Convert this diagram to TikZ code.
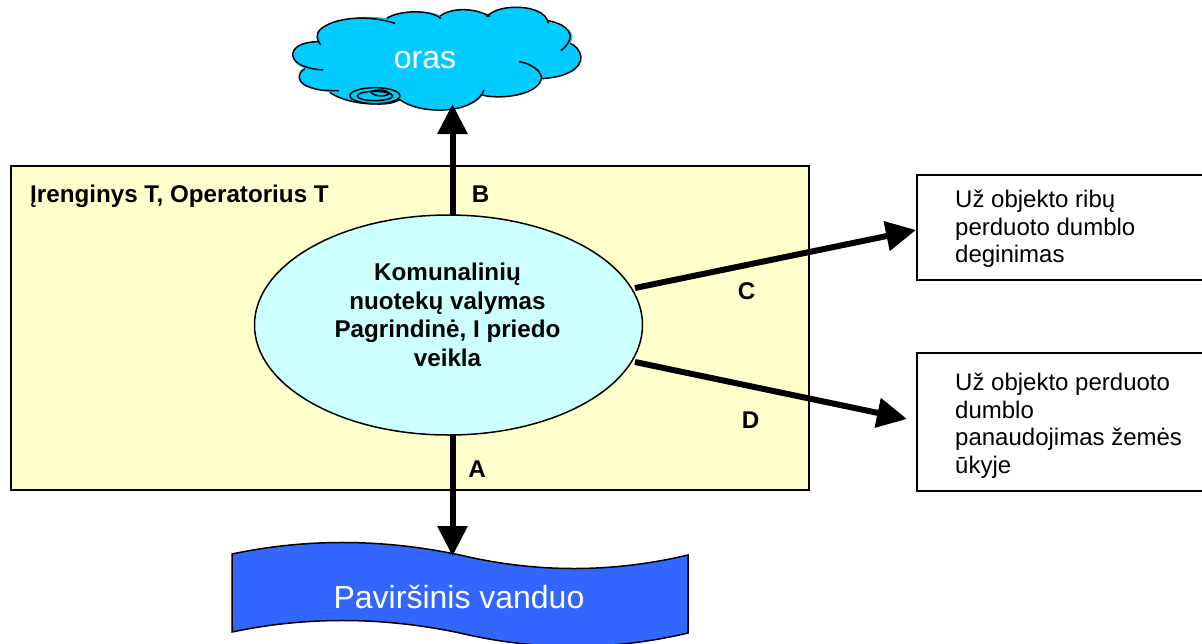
\documentclass[tikz,border=0pt]{standalone}
\usepackage{fontspec}
\setmainfont{Liberation Sans}
\usetikzlibrary{arrows.meta,shapes.geometric}
\tikzset{
  flowarrow/.style={line width=6pt,-{Triangle[length=30pt,width=29pt]},shorten >=0pt},
  sidebox/.style={draw,line width=1.5pt,fill=white},
  lbl/.style={font=\fontsize{24.2}{28}\selectfont\bfseries,inner sep=0pt},
  boxtxt/.style={font=\fontsize{24}{27.5}\selectfont,align=left,inner sep=0pt,anchor=north west},
}
\begin{document}
\begin{tikzpicture}[x=1pt,y=-1pt]
\useasboundingbox (0,0) rectangle (1202,643);
\clip (0,0) rectangle (1202,643);
% plant area
\node[draw,line width=1.5pt,fill={rgb,255:red,255;green,255;blue,204},minimum width=798pt,minimum height=324pt,inner sep=0pt] (plant) at (410,328) {};
% cloud
\begin{scope}[shift={(280pt,0pt)},x=0.3333pt,y=-0.3333pt,line width=1.5pt]
\fill[fill={rgb,255:red,0;green,204;blue,255}] (118,125) .. controls (60,125) and (38,145) .. (38,165) .. controls (40,185) and (55,200) .. (75,205) .. controls (55,220) and (50,250) .. (90,262) .. controls (110,270) and (130,272) .. (150,278) .. controls (180,298) and (230,312) .. (290,312) .. controls (320,313) and (345,308) .. (360,300) .. controls (390,322) and (440,332) .. (490,330) .. controls (550,328) and (600,305) .. (607,285) .. controls (650,298) and (750,295) .. (785,235) .. controls (860,232) and (905,205) .. (903,170) .. controls (900,150) and (885,135) .. (870,130) .. controls (885,110) and (885,85) .. (805,65) .. controls (800,35) and (740,20) .. (700,22) .. controls (670,23) and (640,30) .. (622,48) .. controls (590,25) and (520,20) .. (482,48) .. controls (450,28) and (360,30) .. (320,55) .. controls (240,40) and (110,65) .. (112,105) .. controls (112,115) and (115,120) .. (118,125) -- cycle;
\draw (122,135) .. controls (110,120) and (105,100) .. (125,85) .. controls (170,50) and (270,45) .. (345,70);
\draw (320,55) .. controls (360,30) and (450,28) .. (482,55);
\draw (480,48) .. controls (520,20) and (590,25) .. (630,50);
\draw (620,50) .. controls (640,30) and (670,23) .. (700,22) .. controls (750,20) and (800,35) .. (805,70);
\draw (803,62) .. controls (860,72) and (900,105) .. (843,152);
\draw (870,130) .. controls (885,135) and (900,150) .. (903,170) .. controls (905,205) and (860,232) .. (785,236);
\draw (718,185) .. controls (770,195) and (790,225) .. (783,240) .. controls (765,290) and (650,298) .. (607,285);
\draw (612,270) .. controls (600,305) and (550,328) .. (490,330) .. controls (440,332) and (390,322) .. (358,298);
\draw (362,298) .. controls (345,308) and (320,313) .. (290,312) .. controls (230,312) and (180,298) .. (150,278);
\draw (177,272) .. controls (130,272) and (110,270) .. (90,262) .. controls (50,250) and (50,220) .. (75,205);
\draw (130,210) .. controls (90,208) and (40,195) .. (38,165) .. controls (38,145) and (60,125) .. (118,125);
\draw (285,287) ellipse [x radius=75,y radius=24];
\draw (285,288) ellipse [x radius=53,y radius=14];
\draw (272,276) .. controls (285,292) and (320,290) .. (328,280) .. controls (320,268) and (285,268) .. (272,276);
\end{scope}
\node[inner sep=0pt,text=white,font=\fontsize{32}{36}\selectfont] (oras) at (425,60.5) {oras};
\coordinate (cloudb) at (452.5,104);
% surface water
\path[draw,line width=1.5pt,fill={rgb,255:red,51;green,102;blue,255}] (232,554) .. controls (308,538) and (384,539) .. (460,555) .. controls (536,573) and (612,573) .. (688,555) -- (688,633) .. controls (612,651) and (536,651) .. (460,633) .. controls (384,617) and (308,616) .. (232,632) -- cycle;
\node[inner sep=0pt,text=white,font=\fontsize{32}{36}\selectfont] (water) at (459,597) {Paviršinis vanduo};
\coordinate (waterb) at (452.5,556);
% side boxes
\node[sidebox,minimum width=290pt,minimum height=105pt,inner sep=0pt] (boxc) at (1062,227.5) {};
\node[sidebox,minimum width=290pt,minimum height=138pt,inner sep=0pt] (boxd) at (1062,422) {};
\coordinate (boxcin) at (916,230);
\coordinate (boxdin) at (907,419);
% connectors (under ellipse)
\coordinate (ctop) at (452.5,220);
\coordinate (cbot) at (452.5,430);
\coordinate (cc) at (635,288);
\coordinate (cd) at (635,362);
\draw[flowarrow] (ctop) -- (cloudb);
\draw[flowarrow] (cbot) -- (waterb);
\draw[flowarrow] (cc) -- (boxcin);
\draw[flowarrow] (cd) -- (boxdin);
% activity
\node[ellipse,draw,line width=1.5pt,fill={rgb,255:red,204;green,255;blue,255},minimum width=388pt,minimum height=220pt,inner sep=0pt] (act) at (448.5,325) {};
\node[font=\fontsize{24.2}{28.5}\selectfont\bfseries,align=center,inner sep=0pt] at (447.5,315) {Komunalinių\\nuotekų valymas\\Pagrindinė, I priedo\\veikla};
% labels
\node[lbl,anchor=base west] at (30,202) {Įrenginys T, Operatorius T};
\node[lbl] at (480.5,194) {B};
\node[lbl] at (477,469) {A};
\node[lbl] at (746.5,291) {C};
\node[lbl] at (750.5,420) {D};
\node[boxtxt] at (955,190) {Už objekto ribų\\perduoto dumblo\\deginimas};
\node[boxtxt] at (955,373) {Už objekto perduoto\\dumblo\\panaudojimas žemės\\ūkyje};
\end{tikzpicture}
\end{document}
